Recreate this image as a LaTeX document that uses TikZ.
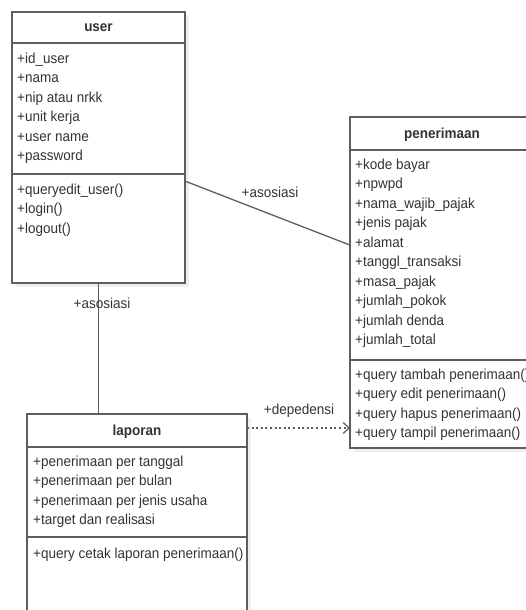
\documentclass[tikz,border=0pt]{standalone}
\usepackage{fontspec}
\setmainfont{Liberation Sans}[FakeStretch=0.93]
\usetikzlibrary{calc,arrows.meta,shadows}
\definecolor{umlline}{HTML}{5E5E5E}
\definecolor{umltext}{HTML}{333333}
\begin{document}
\begin{tikzpicture}[x=1pt,y=-1pt,
  umlbox/.style={draw=umlline,line width=1.4pt,fill=white,inner sep=0pt,outer sep=0pt,anchor=north west,
    drop shadow={shadow xshift=4pt,shadow yshift=-4pt,fill=black!10,opacity=0.6}},
  umlrule/.style={draw=umlline,line width=1.4pt},
  umltitle/.style={anchor=base,inner sep=0pt,text=umltext,font=\fontsize{14.5}{19.5}\selectfont\bfseries},
  umlitems/.style={anchor=base west,inner sep=0pt,align=left,text=umltext,font=\fontsize{14.5}{19.5}\selectfont},
  lbl/.style={anchor=base,inner sep=0pt,text=umltext,font=\fontsize{14.5}{19.5}\selectfont},
  assoc/.style={draw=umlline,line width=1.3pt},
  dep/.style={draw=umlline,line width=1.3pt,dash pattern=on 2pt off 2.6pt,-{Straight Barb[length=6pt,width=11pt,line width=1.2pt]}}]
\useasboundingbox (0,0) rectangle (526,610);
\clip (0,0) rectangle (526,610);
% boxes
\node[umlbox,minimum width=173pt,minimum height=271pt] (user) at (12,12) {};
\node[umlbox,minimum width=184pt,minimum height=331pt] (penerimaan) at (350,117) {};
\node[umlbox,minimum width=220pt,minimum height=240pt] (laporan) at (27,414) {};
% dividers
\draw[umlrule] ($(user.north west)+(0,31)$) -- ($(user.north east)+(0,31)$);
\draw[umlrule] ($(user.north west)+(0,162)$) -- ($(user.north east)+(0,162)$);
\draw[umlrule] ($(penerimaan.north west)+(0,33)$) -- ($(penerimaan.north east)+(0,33)$);
\draw[umlrule] ($(penerimaan.north west)+(0,243)$) -- ($(penerimaan.north east)+(0,243)$);
\draw[umlrule] ($(laporan.north west)+(0,33)$) -- ($(laporan.north east)+(0,33)$);
\draw[umlrule] ($(laporan.north west)+(0,123)$) -- ($(laporan.north east)+(0,123)$);
% titles
\node[umltitle] (usertitle) at ($(user.north)+(0,20)$) {user};
\node[umltitle] (pentitle) at ($(penerimaan.north)+(0,21)$) {penerimaan};
\node[umltitle] (laptitle) at ($(laporan.north)+(0,21)$) {laporan};
% members (anchor base = baseline of the last line)
\node[umlitems] (userattr) at ($(user.north west)+(5,148.5)$) {+id\_user\\+nama\\+nip atau nrkk\\+unit kerja\\+user name\\+password};
\node[umlitems] (userops) at ($(user.north west)+(5,221)$) {+queryedit\_user()\\+login()\\+logout()};
\node[umlitems] (penattr) at ($(penerimaan.north west)+(5,227.5)$) {+kode bayar\\+npwpd\\+nama\_wajib\_pajak\\+jenis pajak\\+alamat\\+tanggl\_transaksi\\+masa\_pajak\\+jumlah\_pokok\\+jumlah denda\\+jumlah\_total};
\node[umlitems] (penops) at ($(penerimaan.north west)+(5,320.5)$) {+query tambah penerimaan()\\+query edit penerimaan()\\+query hapus penerimaan()\\+query tampil penerimaan()};
\node[umlitems] (lapattr) at ($(laporan.north west)+(6,110.5)$) {+penerimaan per tanggal\\+penerimaan per bulan\\+penerimaan per jenis usaha\\+target dan realisasi};
\node[umlitems] (lapops) at ($(laporan.north west)+(6,144)$) {+query cetak laporan penerimaan()};
% connectors
\coordinate (ua) at ($(user.north east)!0.624!(user.south east)$);
\coordinate (pa) at ($(penerimaan.north west)!0.387!(penerimaan.south west)$);
\draw[assoc] (ua) -- (pa);
\draw[assoc] (user.south) -- (user.south |- laporan.north);
\coordinate (ld) at ($(laporan.north east)+(0,14)$);
\draw[dep] (ld) -- (ld -| penerimaan.west);
% labels
\node[lbl] (asos1) at (270,197) {+asosiasi};
\node[lbl] (asos2) at (102,308) {+asosiasi};
\node[lbl] (depl) at (299,414) {+depedensi};
\end{tikzpicture}
\end{document}
